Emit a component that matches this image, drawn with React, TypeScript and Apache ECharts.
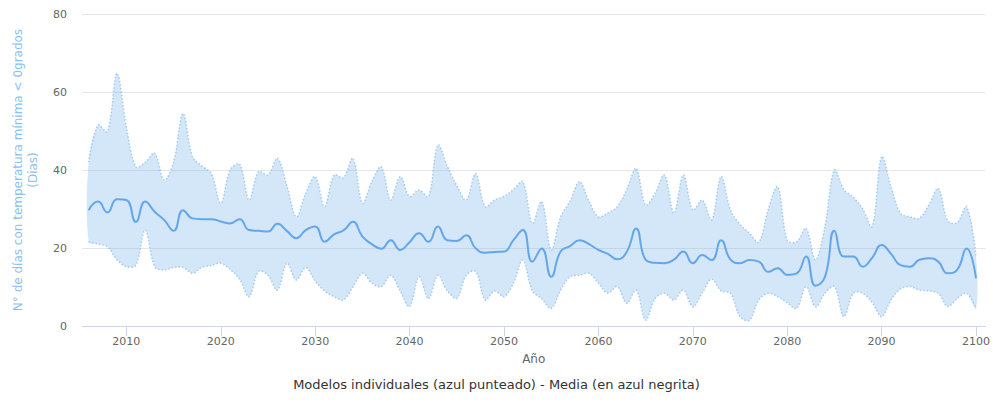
import React, { useEffect, useRef } from "react";
import * as echarts from "echarts";

const firstYear = 2006;
const lastYear = 2100;
const years: number[] = [];
for (let y = firstYear; y <= lastYear; y++) years.push(y);

const tickYears = [2010, 2020, 2030, 2040, 2050, 2060, 2070, 2080, 2090, 2100];

// Media (en azul negrita)
const meanValues = [
  29.7, 31.9, 29.1, 32.5, 32.3, 26.7, 31.9, 29.3, 27.2, 24.4,
  29.7, 27.6, 27.4, 27.4, 26.8, 26.3, 27.4, 24.6, 24.4, 24.2,
  26.2, 24.4, 22.5, 24.6, 25.5, 21.6, 23.5, 24.5, 26.7, 23.0,
  21.0, 19.8, 22.0, 19.5, 21.5, 23.8, 21.6, 25.5, 22.0, 21.8,
  23.3, 19.9, 18.8, 19.0, 19.1, 22.0, 24.6, 16.5, 19.9, 12.6,
  19.1, 20.5, 22.0, 21.0, 19.5, 18.5, 17.1, 19.0, 25.0, 17.0,
  16.2, 16.1, 17.0, 19.1, 16.1, 18.2, 16.9, 22.0, 17.0, 16.1,
  16.9, 16.5, 13.9, 14.8, 13.1, 13.5, 17.8, 10.3, 12.6, 24.4,
  17.8, 17.8, 15.2, 17.5, 20.8, 18.5, 15.6, 15.2, 17.0, 17.4,
  16.5, 13.5, 14.4, 19.9, 12.2,
];

// Upper envelope of the individual models
const upperValues = [
  42, 51.5, 49.8, 64.8, 51, 40.8, 42, 44.3, 37.4, 42,
  54.5, 43.4, 41, 39.1, 31.5, 40, 41.5, 32.3, 39.6, 38.7,
  43, 36, 28, 34, 38.3, 30.6, 38.7, 38, 43, 31.5,
  37, 40.8, 32.3, 38.3, 33.2, 34.9, 33.2, 46.4, 41, 36,
  32.3, 39.1, 30.6, 32.3, 33.2, 35, 37, 26.3, 31.9, 19.5,
  28, 32, 37, 32, 28, 29, 30.6, 35, 40.4, 31,
  34, 38.7, 28.9, 38.7, 29.7, 32.3, 27.2, 38.3, 29.7, 26,
  23.8, 21.5, 30, 35.7, 22, 21.6, 25, 16.9, 25.5, 40,
  35, 33, 30, 25.5, 43.4, 35.7, 28.9, 28, 27.6, 31,
  35.3, 27, 26.5, 30.6, 18,
];

// Lower envelope of the individual models
const lowerValues = [
  21.6, 21, 20.3, 17, 15.2, 15.6, 24.6, 15.2, 14.4, 15,
  15, 13.5, 15, 15.5, 16.1, 14.5, 12, 7.5, 14, 13,
  9.2, 16.1, 11.8, 15, 11.5, 9, 7.5, 6.7, 10, 13.5,
  11, 10.1, 13, 9, 5, 12.6, 7, 13, 9, 7.1,
  13, 14, 6.7, 9, 7.5, 11, 16.9, 9, 7, 4.5,
  9.2, 12.6, 13, 13.5, 11, 8.4, 10.1, 5.8, 9.2, 1.5,
  7, 8.4, 6.7, 9.2, 4.9, 8.5, 12, 9, 8.4, 2.4,
  1.5, 6.7, 8.4, 7.5, 6, 4.5, 10.1, 4.9, 8.4, 10.1,
  2.4, 8.4, 8.4, 6, 2.4, 6.7, 9.5, 10.1, 9.2, 9,
  8.4, 5, 7, 8.4, 4.5,
];

const yAxisTitle = "N° de días con temperatura mínima < 0grados\n(Dias)";
const xAxisTitle = "Año";
const subtitleText = "Modelos individuales (azul punteado) - Media (en azul negrita)";

export default function App() {
  const ref = useRef<HTMLDivElement>(null);
  useEffect(() => {
    if (!ref.current) return;
    const chart = echarts.init(ref.current, null, { renderer: "svg" });
    const bandData = years.map((y, i) => [y, lowerValues[i], upperValues[i]]);
    const meanData = years.map((y, i) => [y, meanValues[i]]);
    const SMOOTH = 0.35;
    chart.setOption({
      animation: false,
      textStyle: { fontFamily: "DejaVu Sans" },
      title: {
        text: subtitleText,
        left: "center",
        top: 373,
        textStyle: { fontSize: 13, color: "#333", fontWeight: "normal" },
      },
      grid: { left: 82, right: 1, top: 14, bottom: 78 },
      xAxis: {
        type: "value",
        min: 2005.3,
        max: 2101,
        name: xAxisTitle,
        nameLocation: "middle",
        nameGap: 27,
        nameTextStyle: { color: "#666", fontSize: 12 },
        axisLine: { show: true, lineStyle: { color: "#ccd6eb" } },
        axisTick: { show: true, customValues: tickYears, length: 10, lineStyle: { color: "#ccd6eb" } },
        axisLabel: {
          customValues: tickYears,
          color: "#666",
          fontSize: 11,
          margin: 10,
          formatter: (v: number) => String(v),
        },
        splitLine: { show: false },
      },
      yAxis: {
        type: "value",
        min: 0,
        max: 80,
        interval: 20,
        name: yAxisTitle,
        nameLocation: "middle",
        nameGap: 42,
        nameTextStyle: { color: "#8cc0ef", fontSize: 12, lineHeight: 15 },
        axisLine: { show: false },
        axisTick: { show: false },
        axisLabel: { color: "#666", fontSize: 11, margin: 15 },
        splitLine: { lineStyle: { color: "#e6e6e6" } },
      },
      series: [
        {
          type: "custom",
          data: bandData,
          encode: { x: 0, y: [1, 2] },
          silent: true,
          renderItem: (params: any, api: any) => {
            if (params.dataIndex !== 0) return null;
            const up: number[][] = [];
            const lo: number[][] = [];
            for (let i = 0; i < years.length; i++) {
              up.push(api.coord([years[i], upperValues[i]]));
              lo.push(api.coord([years[i], lowerValues[i]]));
            }
            const poly = up.concat(lo.slice().reverse());
            return {
              type: "group",
              children: [
                {
                  type: "polygon",
                  shape: { points: poly, smooth: SMOOTH },
                  style: { fill: "rgba(124,181,236,0.33)", stroke: "none" },
                },
                {
                  type: "polyline",
                  shape: { points: up, smooth: SMOOTH },
                  style: { fill: "none", stroke: "rgba(124,181,236,0.65)", lineWidth: 1.5, lineDash: [1.5, 2] },
                },
                {
                  type: "polyline",
                  shape: { points: lo, smooth: SMOOTH },
                  style: { fill: "none", stroke: "rgba(124,181,236,0.65)", lineWidth: 1.5, lineDash: [1.5, 2] },
                },
              ],
            };
          },
        },
        {
          type: "line",
          data: meanData,
          smooth: 0.5,
          symbol: "none",
          z: 5,
          lineStyle: { width: 2, color: "#64a6ea" },
        },
      ],
    });
    return () => chart.dispose();
  }, []);
  return (
    <div
      ref={ref}
      style={{ position: "fixed", left: 0, top: 0, width: 993, height: 404, background: "#fff" }}
    />
  );
}
